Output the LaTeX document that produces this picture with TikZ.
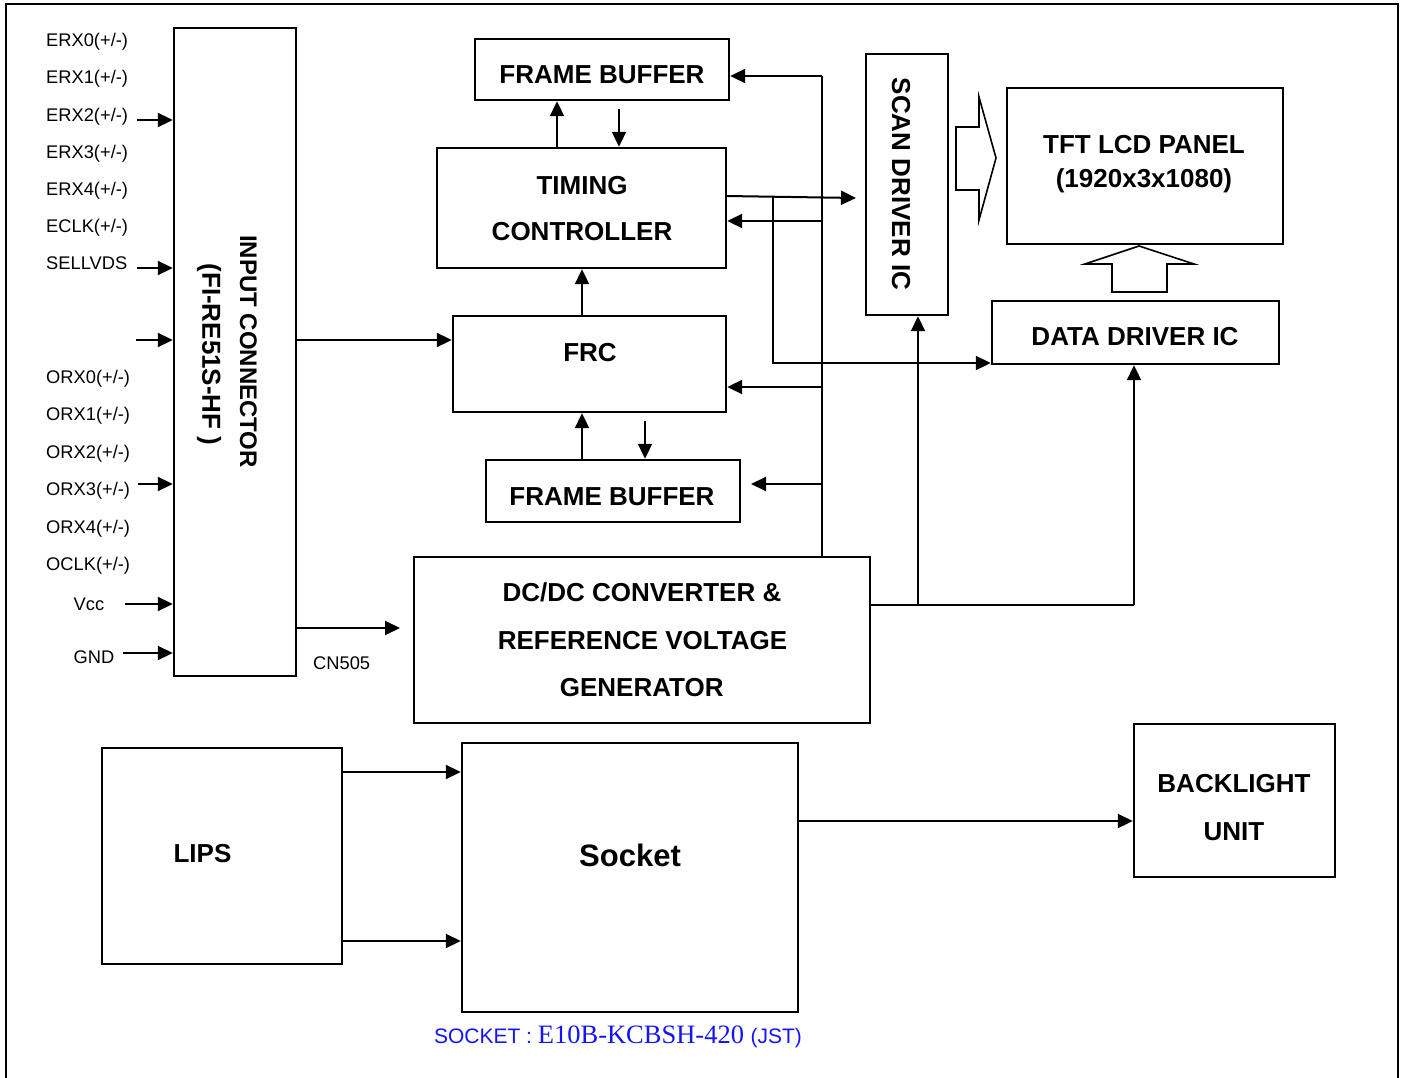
\documentclass[tikz,border=0pt]{standalone}
\usepackage{fontspec}
\setmainfont{Liberation Sans}
\newfontfamily\timesfont{Liberation Serif}
\usetikzlibrary{arrows.meta}
\definecolor{lblue}{RGB}{20,20,245}
\begin{document}
\begin{tikzpicture}[x=1pt,y=-1pt,
  blk/.style={draw,line width=2.4pt,inner sep=0pt,minimum width=#1},
  blk/.default=10pt,
  ln/.style={line width=2pt},
  arr/.style={line width=2pt,-{Triangle[length=15pt,width=14pt]}},
  lbl/.style={font=\fontsize{18.3}{20}\selectfont,anchor=base west,inner sep=0pt},
  bt/.style={font=\bfseries\fontsize{26}{28}\selectfont,anchor=base,inner sep=0pt},
]
\useasboundingbox (0,0) rectangle (1401,1078);
\begin{scope}
\clip (0,0) rectangle (1401,1078);
\draw[line width=2pt] (6,4) rectangle (1398,1100);
\end{scope}

% ---- boxes
\node[blk=122pt,minimum height=648pt] (conn) at (235,352) {};
\node[blk=254pt,minimum height=61pt]  (fb1)  at (602,69.5) {};
\node[blk=289pt,minimum height=120pt] (tc)   at (581.5,208) {};
\node[blk=273pt,minimum height=96pt]  (frc)  at (589.5,364) {};
\node[blk=254pt,minimum height=62pt]  (fb2)  at (613,491) {};
\node[blk=456pt,minimum height=166pt] (dcdc) at (642,640) {};
\node[blk=82pt,minimum height=261pt]  (scan) at (907,184.5) {};
\node[blk=276pt,minimum height=156pt] (tft)  at (1145,166) {};
\node[blk=287pt,minimum height=63pt]  (ddic) at (1135.5,332.5) {};
\node[blk=201pt,minimum height=153pt] (blu)  at (1234.5,800.5) {};
\node[blk=336pt,minimum height=269pt] (sock) at (630,877.5) {};
\node[blk=240pt,minimum height=216pt] (lips) at (222,856) {};

% ---- box texts
\node[bt] (fb1t) at (602,83.8) {FRAME BUFFER};
\node[bt] (tct1) at (582,194.3) {TIMING};
\node[bt] (tct2) at (582,241) {CONTROLLER};
\node[bt] (frct) at (590,361) {FRC};
\node[bt] (fb2t) at (612,505.3) {FRAME BUFFER};
\node[bt] (dct1) at (642,601) {DC/DC CONVERTER \&};
\node[bt] (dct2) at (642.5,649.3) {REFERENCE VOLTAGE};
\node[bt] (dct3) at (641.7,696.3) {GENERATOR};
\node[bt] (tftt1) at (1144,153.8) {TFT LCD PANEL};
\node[bt] (tftt2) at (1144,187.3) {(1920x3x1080)};
\node[bt] (ddict) at (1135,345.8) {DATA DRIVER IC};
\node[bt] (blut1) at (1234,792.3) {BACKLIGHT};
\node[bt] (blut2) at (1234,840.3) {UNIT};
\node[bt] (lipst) at (202.5,862.3) {LIPS};
\node[bt,font=\bfseries\fontsize{31}{33}\selectfont] (sockt) at (630,866) {Socket};
\node[font=\bfseries\fontsize{26}{28}\selectfont,rotate=-90,inner sep=0pt] (scant) at (901,184) {SCAN DRIVER IC};
\node[font=\bfseries\fontsize{24}{26}\selectfont,rotate=-90,inner sep=0pt] (connt1) at (248.5,351.5) {INPUT CONNECTOR};
\node[font=\bfseries\fontsize{26}{28}\selectfont,rotate=-90,inner sep=0pt] (connt2) at (209,354.5) {(FI-RE51S-HF )};

% ---- left labels
\node[lbl] (l1) at (46,46.5) {ERX0(+/-)};
\node[lbl] (l2) at (46,83.5) {ERX1(+/-)};
\node[lbl] (l3) at (46,121.5) {ERX2(+/-)};
\node[lbl] (l4) at (46,158.5) {ERX3(+/-)};
\node[lbl] (l5) at (46,196) {ERX4(+/-)};
\node[lbl] (l6) at (46,233) {ECLK(+/-)};
\node[lbl] (l7) at (46,270) {SELLVDS};
\node[lbl] (l8) at (46,383.5) {ORX0(+/-)};
\node[lbl] (l9) at (46,420.5) {ORX1(+/-)};
\node[lbl] (l10) at (46,458) {ORX2(+/-)};
\node[lbl] (l11) at (46,495.5) {ORX3(+/-)};
\node[lbl] (l12) at (46,533) {ORX4(+/-)};
\node[lbl] (l13) at (46,570.5) {OCLK(+/-)};
\node[lbl] (l14) at (73.5,610) {Vcc};
\node[lbl] (l15) at (73.5,663.5) {GND};
\node[lbl] (cn) at (313,669.5) {CN505};

% ---- input arrows
\coordinate (i1) at (137,120);
\coordinate (i2) at (137,268);
\coordinate (i3) at (136,340);
\coordinate (i4) at (138,484);
\coordinate (i5) at (125,604);
\coordinate (i6) at (123,653);
\foreach \p in {i1,i2,i3,i4,i5,i6} \draw[arr] (\p) -- (\p -| conn.west);

% ---- connector outputs
\coordinate (o1) at (296,340);
\draw[arr] (o1 -| conn.east) -- (o1 -| frc.west);
\coordinate (o2) at (400,628);
\draw[arr] (o2 -| conn.east) -- (o2);

% ---- frame buffer / timing / frc
\coordinate (a1) at (557,0);
\draw[arr] (a1 |- tc.north) -- (a1 |- fb1.south);
\coordinate (a2) at (619,109);
\draw[arr] (a2) -- (a2 |- tc.north);
\coordinate (a3) at (582,0);
\draw[arr] (a3 |- frc.north) -- (a3 |- tc.south);
\draw[arr] (a3 |- fb2.north) -- (a3 |- frc.south);
\coordinate (a4) at (645,421);
\draw[arr] (a4) -- (a4 |- fb2.north);

% ---- vertical bus from DC/DC
\coordinate (bus) at (822,76);
\draw[ln] (bus) -- (bus |- dcdc.north);
\draw[arr] (bus) -- (bus -| fb1.east);
\coordinate (b2) at (822,221);
\draw[arr] (b2) -- (b2 -| tc.east);
\coordinate (b3) at (822,387);
\draw[arr] (b3) -- (b3 -| frc.east);
\coordinate (b4) at (822,484);
\coordinate (b4t) at (751,484);
\draw[arr] (b4) -- (b4t);

% ---- timing outputs
\coordinate (t1) at (726,196);
\coordinate (t1t) at (856,198);
\draw[arr] (t1) -- (t1t);
\coordinate (j1) at (773,197);
\coordinate (j2) at (773,363);
\draw[ln] (j1) -- (j2);
\draw[arr] ([xshift=-1pt]j2) -- (j2 -| ddic.west);

% ---- DC/DC output
\coordinate (p1) at (918,605);
\coordinate (p2) at (1134,605);
\draw[ln] (p1 -| dcdc.east) -- (p2);
\draw[arr] (p1) -- (p1 |- scan.south);
\draw[arr] (p2) -- (p2 |- ddic.south);

% ---- hollow arrows
\draw[line width=1.6pt,line join=miter] (956,127) -- (979,127) -- (979,97) -- (996,158) -- (979,220) -- (979,190) -- (956,190) -- cycle;
\draw[line width=1.6pt,line join=miter] (1112,292) -- (1112,264) -- (1085,264) -- (1139,246) -- (1194,264) -- (1167,264) -- (1167,292) -- cycle;

% ---- LIPS / socket / backlight
\coordinate (s1) at (342,772);
\draw[arr] (s1) -- (s1 -| sock.west);
\coordinate (s2) at (342,941);
\draw[arr] (s2) -- (s2 -| sock.west);
\coordinate (s3) at (798,821);
\draw[arr] (s3) -- (s3 -| blu.west);

% ---- socket caption
\node[anchor=base,inner sep=0pt,text=lblue] (cap) at (618,1043)
  {\fontsize{21}{22}\selectfont SOCKET : \timesfont\fontsize{26.5}{28}\selectfont E10B-KCBSH-420 \rmfamily\fontsize{21}{22}\selectfont(JST)};
\end{tikzpicture}
\end{document}
